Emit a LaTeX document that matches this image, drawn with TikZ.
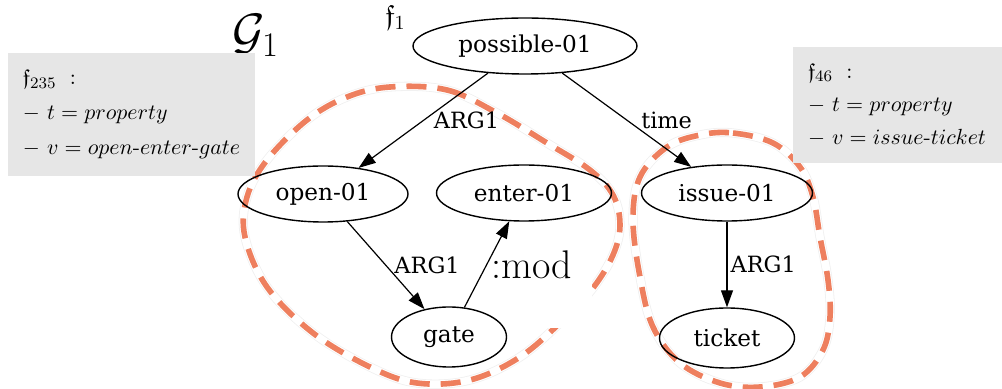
\documentclass[tikz,border=0pt]{standalone}
\usepackage{amsmath,amssymb}
\usepackage{fontspec}
\newfontfamily\amrfont{DejaVu Serif}
\usepackage{tikz}
\usetikzlibrary{shapes.geometric,arrows.meta}
\definecolor{amr_orange}{HTML}{EE7F5E}
\definecolor{box_gray}{HTML}{E6E6E6}

\tikzset{
  concept/.style={ellipse, draw, line width=0.7pt, inner sep=0pt, minimum height=28pt,
    font=\amrfont\fontsize{11.6}{13}\selectfont},
  rel/.style={-{Triangle[length=8.5pt,width=6pt]}, line width=0.6pt},
  rellabel/.style={anchor=west, inner sep=3pt, font=\amrfont\fontsize{11.2}{13}\selectfont},
  attrbox/.style={fill=box_gray, align=left, inner xsep=7.5pt, inner ysep=0pt,
    font=\fontsize{10.8}{17.5}\selectfont},
  grouphalo/.style={line width=4.6pt, gray!12},
  groupbase/.style={line width=3.8pt, white},
  group/.style={line width=2.8pt, amr_orange, dash pattern=on 10pt off 5.5pt}
}

\begin{document}
\begin{tikzpicture}[x=0.5pt, y=-0.5pt]
            \useasboundingbox (0,0) rectangle (1002,389);

            % groups of the graph
            \draw[grouphalo] plot[smooth cycle, tension=0.6] coordinates {(390,87) (447,90) (497,113) (547,143) (590,170) (613,195) (620,225) (613,255) (593,288) (563,320) (520,357) (470,380) (417,383) (370,367) (313,333) (267,287) (245,237) (247,197) (267,160) (307,120) (347,97)};
            \draw[groupbase] plot[smooth cycle, tension=0.6] coordinates {(390,87) (447,90) (497,113) (547,143) (590,170) (613,195) (620,225) (613,255) (593,288) (563,320) (520,357) (470,380) (417,383) (370,367) (313,333) (267,287) (245,237) (247,197) (267,160) (307,120) (347,97)};
            \draw[group] plot[smooth cycle, tension=0.6] coordinates {(390,87) (447,90) (497,113) (547,143) (590,170) (613,195) (620,225) (613,255) (593,288) (563,320) (520,357) (470,380) (417,383) (370,367) (313,333) (267,287) (245,237) (247,197) (267,160) (307,120) (347,97)};
            \draw[grouphalo] plot[smooth cycle, tension=0.6] coordinates {(700,135) (733,133) (773,143) (800,167) (813,197) (820,237) (828,280) (830,317) (823,350) (800,377) (760,387) (720,383) (680,363) (653,327) (640,277) (633,220) (640,177) (667,147)};
            \draw[groupbase] plot[smooth cycle, tension=0.6] coordinates {(700,135) (733,133) (773,143) (800,167) (813,197) (820,237) (828,280) (830,317) (823,350) (800,377) (760,387) (720,383) (680,363) (653,327) (640,277) (633,220) (640,177) (667,147)};
            \draw[group] plot[smooth cycle, tension=0.6] coordinates {(700,135) (733,133) (773,143) (800,167) (813,197) (820,237) (828,280) (830,317) (823,350) (800,377) (760,387) (720,383) (680,363) (653,327) (640,277) (633,220) (640,177) (667,147)};
            \fill[white] (483,242) rectangle (592,328);

            \node[anchor=base west, inner sep=0pt, font=\fontsize{24}{24}\selectfont] (g1) at (232,49) {$\mathcal{G}_1$};
            \node[anchor=base west, inner sep=0pt, font=\fontsize{14}{14}\selectfont] (f1) at (385,25) {$\mathfrak{f}_1$};

            \node[attrbox, text width=108.5pt, minimum height=61.5pt] (f235) at (131.5,114.5)
              {\mbox{$\mathfrak{f}_{235}\ \;{:}$}\\ \mbox{$-\ t = property$}\\ \mbox{$-\ v = open\text{-}enter\text{-}gate$}};
            \node[attrbox, text width=89.5pt, minimum height=58pt, font=\fontsize{10.8}{16.5}\selectfont] (f46) at (897.5,105)
              {\mbox{$\mathfrak{f}_{46}\ \;{:}$}\\ \mbox{$-\ t = property$}\\ \mbox{$-\ v = issue\text{-}ticket$}};

            \node[concept, minimum width=112pt] (possible) at (525,46) {possible-01};
            \node[concept, minimum width=85pt] (open) at (323,194) {open-01};
            \node[concept, minimum width=87.5pt] (enter) at (524,193) {enter-01};
            \node[concept, minimum width=57.5pt, minimum height=30pt] (gate) at (449,337) {gate};
            \node[concept, minimum width=85.5pt] (issue) at (727,193) {issue-01};
            \node[concept, minimum width=67.5pt, minimum height=30pt] (ticket) at (727,338) {ticket};

            \draw[rel] (possible) -- node[rellabel, inner sep=5pt] {ARG1} (open);
            \draw[rel] (possible) -- node[rellabel, inner sep=7pt] {time} (issue);
            \draw[rel] (open) -- node[rellabel, inner sep=4pt] {ARG1} (gate);
            \draw[rel] (gate) -- node[rellabel, inner sep=2pt, font=\fontsize{20}{20}\selectfont] {:mod} (enter);
            \draw[rel] (issue) -- node[rellabel, inner sep=1.5pt] {ARG1} (ticket);

\end{tikzpicture}
\end{document}
